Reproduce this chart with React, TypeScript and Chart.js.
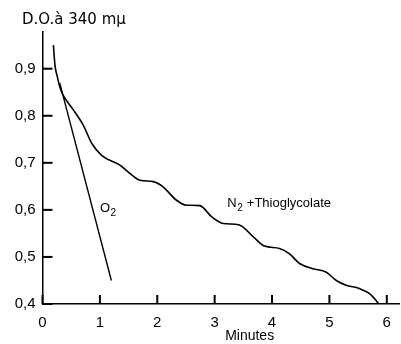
import React, { useEffect, useRef } from "react";
import { Chart, registerables } from "chart.js";

Chart.register(...registerables);

// N2 + Thioglycolate curve (minutes, optical density)
const n2Minutes = [0.19, 0.205, 0.22, 0.26, 0.3, 0.35, 0.42, 0.54, 0.71, 0.86, 1.03, 1.35, 1.49, 1.7, 1.93, 2.1, 2.33, 2.51, 2.74, 2.95, 3.15, 3.43, 3.67, 3.87, 4.13, 4.3, 4.48, 4.71, 4.94, 5.12, 5.29, 5.52, 5.7, 5.81, 5.86];
const n2OD = [0.95, 0.925, 0.905, 0.882, 0.862, 0.846, 0.832, 0.812, 0.78, 0.741, 0.716, 0.695, 0.681, 0.663, 0.66, 0.649, 0.621, 0.61, 0.609, 0.585, 0.571, 0.568, 0.543, 0.523, 0.518, 0.507, 0.486, 0.475, 0.468, 0.45, 0.44, 0.433, 0.422, 0.408, 0.4];

// O2 straight line
const o2Minutes = [0.3, 1.2];
const o2OD = [0.87, 0.45];

const xTicks = [0, 1, 2, 3, 4, 5, 6];
const yTicks = [0.4, 0.5, 0.6, 0.7, 0.8, 0.9];

const yTitle = "D.O.à 340 mµ";
const xTitle = { text: "Minutes", x: 3.61 };
const o2Label = { main: "O", sub: "2", x: 1.0, y: 0.604 };
const n2Label = { main: "N", sub: "2", rest: " +Thioglycolate", x: 3.22, y: 0.614 };

const FONT = "'Liberation Sans', Arial, sans-serif";
const WIDE = "'DejaVu Sans', sans-serif";

export default function App() {
  const ref = useRef<HTMLCanvasElement | null>(null);

  useEffect(() => {
    if (!ref.current) return;
    const decor = {
      id: "decor",
      afterDraw(chart: any) {
        const { ctx, scales, chartArea } = chart;
        const xs = scales.x;
        const ys = scales.y;
        ctx.save();
        ctx.fillStyle = "#000";
        // inward tick marks
        yTicks.forEach((v) => {
          const py = ys.getPixelForValue(v);
          ctx.fillRect(chartArea.left, py - 1, 10, 2);
        });
        xTicks.forEach((v) => {
          const px = xs.getPixelForValue(v);
          ctx.fillRect(px - 1, chartArea.bottom - 9, 2, 9);
        });
        // y title at the top
        ctx.font = `15px ${WIDE}`;
        ctx.textBaseline = "alphabetic";
        ctx.textAlign = "left";
        ctx.fillText(yTitle, 22, 24);
        // x title
        ctx.font = `14px ${FONT}`;
        ctx.textAlign = "center";
        ctx.textBaseline = "middle";
        ctx.fillText(xTitle.text, xs.getPixelForValue(xTitle.x), 336);
        ctx.textAlign = "left";
        // O2 label
        let px = xs.getPixelForValue(o2Label.x);
        let py = ys.getPixelForValue(o2Label.y);
        ctx.font = `13px ${FONT}`;
        ctx.fillText(o2Label.main, px, py);
        let w = ctx.measureText(o2Label.main).width;
        ctx.font = `10px ${FONT}`;
        ctx.fillText(o2Label.sub, px + w + 0.5, py + 5);
        // N2 label
        px = xs.getPixelForValue(n2Label.x);
        py = ys.getPixelForValue(n2Label.y);
        ctx.font = `13px ${FONT}`;
        ctx.fillText(n2Label.main, px, py);
        w = ctx.measureText(n2Label.main).width;
        ctx.font = `10px ${FONT}`;
        ctx.fillText(n2Label.sub, px + w + 0.5, py + 5);
        const w2 = ctx.measureText(n2Label.sub).width;
        ctx.font = `13px ${FONT}`;
        ctx.fillText(n2Label.rest, px + w + w2 + 1, py);
        ctx.restore();
      },
    };

    const chart = new Chart(ref.current, {
      type: "line",
      data: {
        datasets: [
          {
            label: "N2 + Thioglycolate",
            data: n2Minutes.map((x, i) => ({ x, y: n2OD[i] })),
            borderColor: "#000",
            borderWidth: 1.6,
            pointRadius: 0,
            cubicInterpolationMode: "monotone",
            fill: false,
          },
          {
            label: "O2",
            data: o2Minutes.map((x, i) => ({ x, y: o2OD[i] })),
            borderColor: "#000",
            borderWidth: 1.4,
            pointRadius: 0,
            tension: 0,
            fill: false,
          },
        ],
      },
      options: {
        animation: false,
        responsive: false,
        devicePixelRatio: 1,
        layout: { padding: { top: 32, right: 1, left: 0, bottom: 0 } },
        plugins: { legend: { display: false }, tooltip: { enabled: false }, title: { display: false } },
        scales: {
          x: {
            type: "linear",
            min: 0,
            max: 6.22,
            afterFit: (s: any) => {
              s.height = 40;
            },
            afterBuildTicks: (s: any) => {
              s.ticks = xTicks.map((v) => ({ value: v }));
            },
            grid: { display: false, drawTicks: false },
            border: { display: true, color: "#000", width: 1.5 },
            ticks: {
              padding: 10,
              color: "#000",
              font: { family: FONT, size: 15 },
              callback: (v: any) => String(v),
            },
          },
          y: {
            type: "linear",
            min: 0.4,
            max: 0.978,
            afterFit: (s: any) => {
              s.width = 42.5;
            },
            afterBuildTicks: (s: any) => {
              s.ticks = yTicks.map((v) => ({ value: v }));
            },
            grid: { display: false, drawTicks: false },
            border: { display: true, color: "#000", width: 1.5 },
            ticks: {
              padding: 7,
              color: "#000",
              font: { family: FONT, size: 15 },
              callback: (v: any) => Number(v).toFixed(1).replace(".", ","),
            },
          },
        },
      },
      plugins: [decor],
    });
    return () => chart.destroy();
  }, []);

  return (
    <div style={{ position: "fixed", left: 0, top: 0, width: 401, height: 344, background: "#fff" }}>
      <canvas ref={ref} width={401} height={344} />
    </div>
  );
}
